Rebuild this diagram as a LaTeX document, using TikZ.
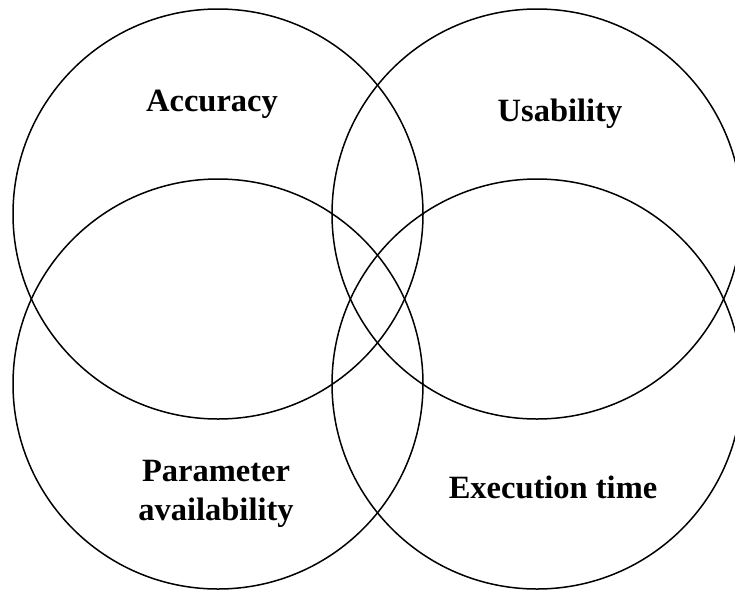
\documentclass[tikz,border=0pt]{standalone}
\usepackage{fontspec}
\setmainfont{Liberation Serif}
\begin{document}
\begin{tikzpicture}[x=1pt,y=-1pt,
  ring/.style={circle, draw=black, line width=1.5pt, minimum size=410pt, inner sep=0pt, outer sep=0pt},
  lbl/.style={font=\bfseries\fontsize{32.5}{39}\selectfont, align=center, inner sep=0pt}]
\useasboundingbox (0,0) rectangle (735,590);
\clip (0,0) rectangle (735,590);
\node[ring] (cA) at (218,214) {};
\node[ring] (cU) at (537,214) {};
\node[ring] (cP) at (218,384) {};
\node[ring] (cE) at (537,384) {};
\node[lbl] (tA) at (212,104) {Accuracy};
\node[lbl] (tU) at (560,114) {Usability};
\node[lbl] (tP) at (216,494) {Parameter\\availability};
\node[lbl] (tE) at (553,487) {Execution time};
\end{tikzpicture}
\end{document}
